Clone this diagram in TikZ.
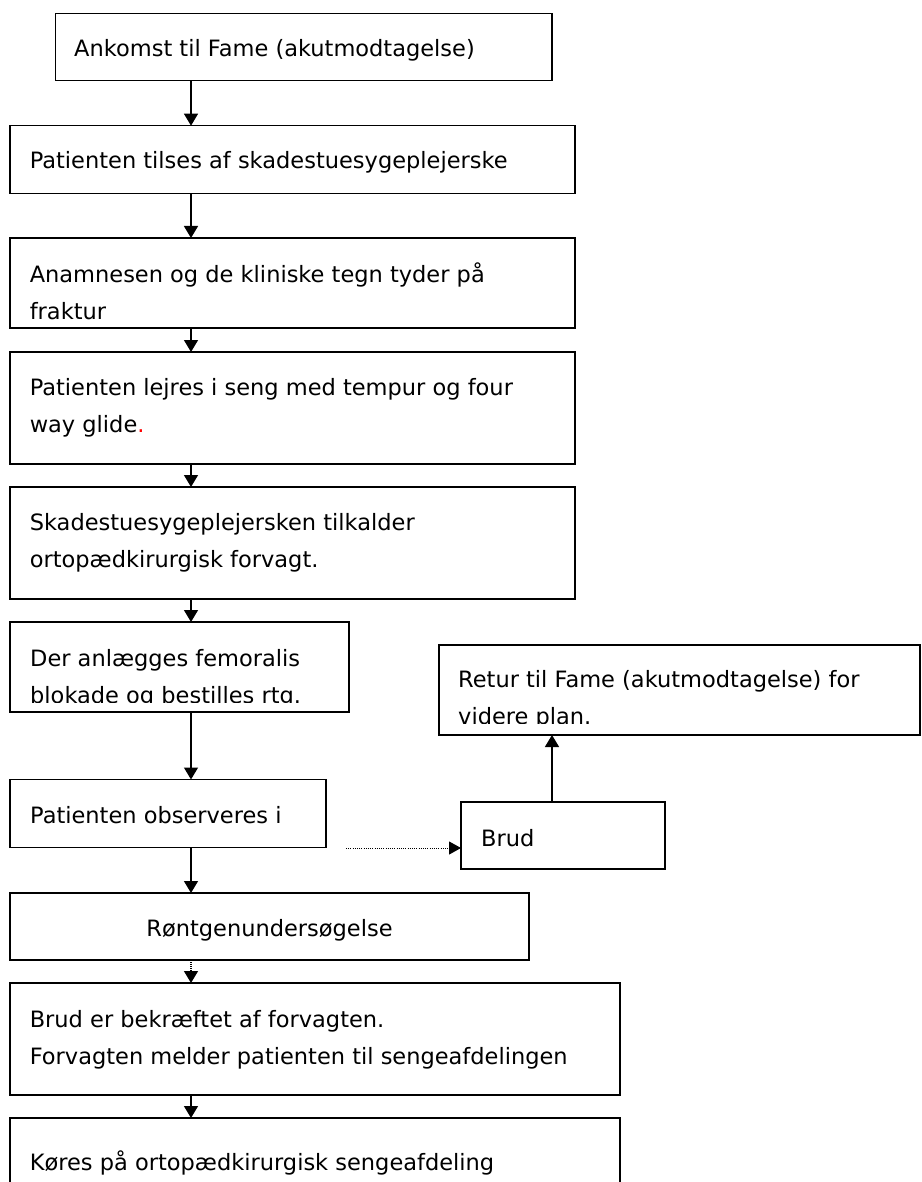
\documentclass[tikz,border=0pt]{standalone}
\usepackage{fontspec}
\setmainfont{DejaVu Sans}
\usetikzlibrary{arrows.meta}
\begin{document}
\begin{tikzpicture}[x=1pt,y=-1pt,
  box/.style={draw=black, line width=1.3pt, rectangle, inner sep=0pt, outer sep=0pt, anchor=north west},
  txt/.style={anchor=base west, inner sep=0pt, font=\fontsize{22.5}{37}\selectfont},
  flow/.style={line width=1.3pt, -{Triangle[width=14pt,length=12pt]}},
  dots/.style={line width=1pt, dash pattern=on 1pt off 1.2pt, -{Triangle[width=13pt,length=12pt]}}
]
\useasboundingbox (0,0) rectangle (921,1182);

% main column of steps
\node[box, minimum width=496.5pt, minimum height=67.4pt] (b1) at (55.5,13.3) {};
\node[box, minimum width=565pt, minimum height=67.6pt] (b2) at (10,125.7) {};
\node[box, minimum width=565pt, minimum height=90pt] (b3) at (10,238) {};
\node[box, minimum width=565pt, minimum height=112pt] (b4) at (10,352) {};
\node[box, minimum width=565pt, minimum height=112pt] (b5) at (10,487) {};
\node[box, minimum width=339pt, minimum height=90pt] (b6) at (10,622) {};
\node[box, minimum width=316pt, minimum height=68pt] (b7) at (10,779.5) {};
\node[box, minimum width=519pt, minimum height=67pt] (b8) at (10,893) {};
\node[box, minimum width=610pt, minimum height=112pt] (b9) at (10,983) {};
\node[box, minimum width=610pt, minimum height=120pt] (b12) at (10,1118) {};

% side branch
\node[box, minimum width=204pt, minimum height=67pt] (b10) at (461,802) {};
\node[box, minimum width=481pt, minimum height=90pt] (b11) at (439,645) {};

% texts
\node[txt] (t1) at (74,56.5) {Ankomst til Fame (akutmodtagelse)};
\node[txt] (t2) at (29.6,169) {Patienten tilses af skadestuesygeplejerske};
\node[txt] (t3a) at (29.6,282) {Anamnesen og de kliniske tegn tyder på};
\node[txt] (t3b) at (29.6,319) {fraktur};
\node[txt] (t4a) at (29.6,395) {Patienten lejres i seng med tempur og four};
\node[txt] (t4b) at (29.6,432) {way glide\textcolor{red}{.}};
\node[txt] (t5a) at (29.6,530) {Skadestuesygeplejersken tilkalder};
\node[txt] (t5b) at (29.6,567) {ortopædkirurgisk forvagt.};
\node[txt] (t6a) at (30,666) {Der anlægges femoralis};
\begin{scope}
  \clip (0,0) rectangle (921,702);
  \node[txt] (t6b) at (30,703) {blokade og bestilles rtg.};
\end{scope}
\node[txt] (t7) at (30,823) {Patienten observeres i};
\node[txt, anchor=base] (t8) at (b8.center |- 0,936) {Røntgenundersøgelse};
\node[txt] (t9a) at (29.6,1027) {Brud er bekræftet af forvagten.};
\node[txt] (t9b) at (29.6,1064) {Forvagten melder patienten til sengeafdelingen};
\node[txt] (t12) at (29.6,1170) {Køres på ortopædkirurgisk sengeafdeling};
\node[txt] (t10) at (481,846) {Brud};
\node[txt] (t11a) at (458,687) {Retur til Fame (akutmodtagelse) for};
\begin{scope}
  \clip (0,0) rectangle (921,723);
  \node[txt] (t11b) at (458,724) {videre plan.};
\end{scope}

% connectors
\coordinate (ax) at (191,0);
\coordinate (ux) at (552,0);
\coordinate (dstart) at (346,848);
\draw[flow] (b1.south -| ax) -- (b2.north -| ax);
\draw[flow] (b2.south -| ax) -- (b3.north -| ax);
\draw[flow] (b3.south -| ax) -- (b4.north -| ax);
\draw[flow] (b4.south -| ax) -- (b5.north -| ax);
\draw[flow] (b5.south -| ax) -- (b6.north -| ax);
\draw[flow] (b6.south -| ax) -- (b7.north -| ax);
\draw[flow] (b7.south -| ax) -- (b8.north -| ax);
\draw[flow, dash pattern=on 1pt off 1pt] (b8.south -| ax) -- (b9.north -| ax);
\draw[flow] (b9.south -| ax) -- (b12.north -| ax);
\draw[dots] (dstart) -- (dstart -| b10.west);
\draw[flow] (b10.north -| ux) -- (b11.south -| ux);
\end{tikzpicture}
\end{document}
